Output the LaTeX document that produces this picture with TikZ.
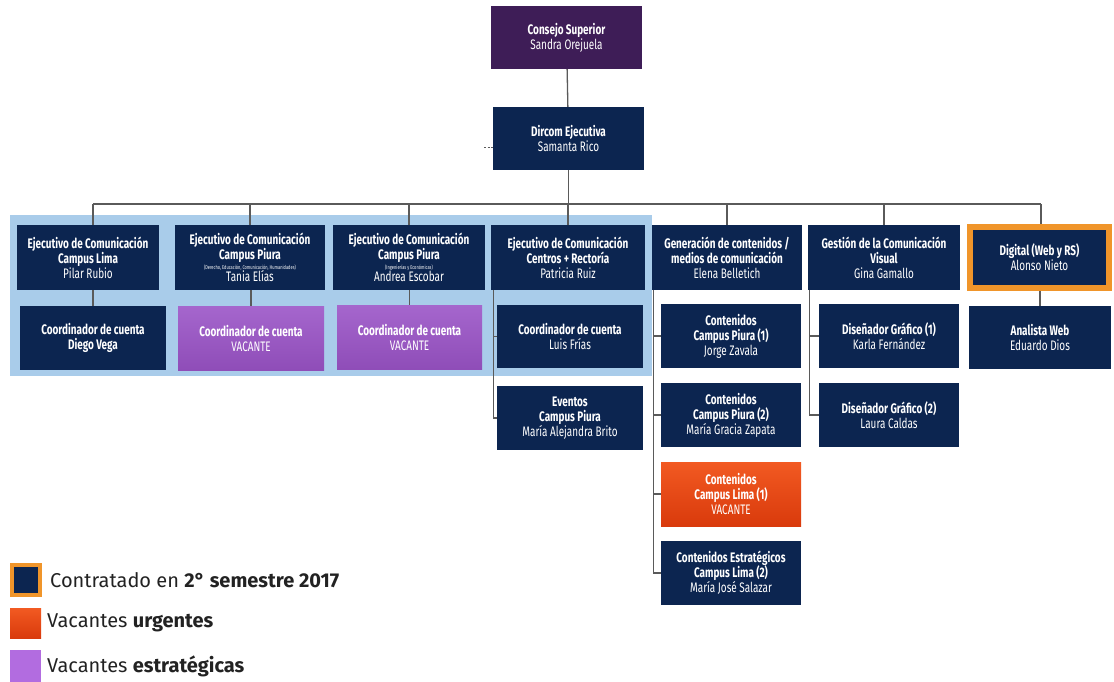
\documentclass[tikz,border=0pt]{standalone}
\usepackage{fontspec}
\setmainfont{Fira Sans}
\newfontfamily\bx{Fira Sans}[FakeStretch=0.72]
\definecolor{navy}{HTML}{0C2550}
\definecolor{plum}{HTML}{3E1D57}
\definecolor{vacT}{HTML}{A566CD}
\definecolor{vacB}{HTML}{8F4DB8}
\definecolor{urgT}{HTML}{F25A22}
\definecolor{urgB}{HTML}{D93A0C}
\definecolor{gold}{HTML}{F0952A}
\definecolor{sky}{HTML}{A9CCEA}
\definecolor{wire}{HTML}{5A5A5A}
\definecolor{lpurp}{HTML}{B26CE0}
\definecolor{ink}{HTML}{222222}
\tikzset{
  base/.style={rectangle, inner sep=0pt, align=center, text=white,
    font=\bx\fontsize{13.8}{15}\selectfont, minimum height=64},
  nv/.style={base, fill=navy},
  topbox/.style={base, fill=plum},
  vacbox/.style={base, top color=vacT, bottom color=vacB},
  urgbox/.style={base, top color=urgT, bottom color=urgB},
  wireline/.style={draw=wire, line width=1.3pt},
  legtxt/.style={anchor=west, text=ink, font=\fontsize{20}{22}\selectfont, inner sep=0pt},
}
\newcommand{\smallnote}[1]{{\fontsize{5.5}{6}\selectfont #1}}
\begin{document}
\begin{tikzpicture}[x=1pt,y=-1pt]
\useasboundingbox (0,0) rectangle (1114,682);
% light blue band
\fill[sky] (10,215) rectangle (652,376);

% top
\node[topbox, minimum width=151, minimum height=63] (cs) at (566.5,37.5) {\textbf{Consejo Superior}\\Sandra Orejuela};
\node[nv, minimum width=151, minimum height=63] (dir) at (568.5,138.5) {\textbf{Dircom Ejecutiva}\\Samanta Rico};

% first level
\node[nv, minimum width=142, minimum height=65] (e1) at (88,257.5) {\textbf{Ejecutivo de Comunicación}\\\textbf{Campus Lima}\\Pilar Rubio};
\node[nv, minimum width=150, minimum height=65] (e2) at (250,257.5) {\textbf{Ejecutivo de Comunicación}\\\textbf{Campus Piura}\\[-5pt]\smallnote{(Derecho, Educación, Comunicación, Humanidades)}\\[-2.5pt]Tania Elías};
\node[nv, minimum width=152, minimum height=65] (e3) at (409,257.5) {\textbf{Ejecutivo de Comunicación}\\\textbf{Campus Piura}\\[-5pt]\smallnote{(Ingenierías y Económicas)}\\[-2.5pt]Andrea Escobar};
\node[nv, minimum width=154, minimum height=65] (e4) at (568,257.5) {\textbf{Ejecutivo de Comunicación}\\\textbf{Centros + Rectoría}\\Patricia Ruiz};
\node[nv, minimum width=150, minimum height=65] (e5) at (727,257.5) {\textbf{Generación de contenidos /}\\\textbf{medios de comunicación}\\Elena Belletich};
\node[nv, minimum width=152, minimum height=65] (e6) at (884,257.5) {\textbf{Gestión de la Comunicación}\\\textbf{Visual}\\Gina Gamallo};
\node[nv, minimum width=139, minimum height=61, draw=gold, line width=5.5pt] (e7) at (1039.5,257.5) {\textbf{Digital (Web y RS)}\\Alonso Nieto};

% second level
\node[nv, minimum width=146] (c1) at (93,338) {\textbf{Coordinador de cuenta}\\\textbf{Diego Vega}};
\node[vacbox, minimum width=146] (c2) at (251,338) {\textbf{Coordinador de cuenta}\\VACANTE};
\node[vacbox, minimum width=145] (c3) at (409.5,337) {\textbf{Coordinador de cuenta}\\VACANTE};
\node[nv, minimum width=146, minimum height=63] (c4) at (570,336.5) {\textbf{Coordinador de cuenta}\\Luis Frías};
\node[nv, minimum width=146] (ev) at (570,418) {\textbf{Eventos}\\\textbf{Campus Piura}\\María Alejandra Brito};

\node[nv, minimum width=140] (g1) at (731,336) {\textbf{Contenidos}\\\textbf{Campus Piura (1)}\\Jorge Zavala};
\node[nv, minimum width=140] (g2) at (731,415) {\textbf{Contenidos}\\\textbf{Campus Piura (2)}\\María Gracia Zapata};
\node[urgbox, minimum width=140] (g3) at (731,494) {\textbf{Contenidos}\\\textbf{Campus Lima (1)}\\VACANTE};
\node[nv, minimum width=140] (g4) at (731,573) {\textbf{Contenidos Estratégicos}\\\textbf{Campus Lima (2)}\\María José Salazar};

\node[nv, minimum width=140] (d1) at (889,336) {\textbf{Diseñador Gráfico (1)}\\Karla Fernández};
\node[nv, minimum width=140] (d2) at (889,415) {\textbf{Diseñador Gráfico (2)}\\Laura Caldas};

\node[nv, minimum width=142, minimum height=63] (aw) at (1040,337.5) {\textbf{Analista Web}\\Eduardo Dios};

% connectors
\coordinate (busL) at (93,204);
\coordinate (busR) at (1041,204);
\draw[wireline] (cs) -- (dir);
\draw[wireline] (dir.south) -- (dir.south |- busL);
\draw[wireline] (busL) -- (busR);
\draw[wireline] (busL) -- (busL |- e1.north);
\foreach \n in {e2,e3,e4,e5,e6} \draw[wireline] (\n.north |- busL) -- (\n.north);
\draw[wireline] (busR) -- (busR |- e7.north);
\draw[wireline] (c1.north |- e1.south) -- (c1.north);
\draw[wireline] (c2.north |- e2.south) -- (c2.north);
\draw[wireline] (c3.north |- e3.south) -- (c3.north);
\draw[wireline] (aw.north |- e7.south) -- (aw.north);

\coordinate (pL) at ([xshift=3pt]e4.south west);
\draw[wireline] (pL) |- (ev.west);
\draw[wireline] (c4.west) -- (c4.west -| pL);

\coordinate (gL) at ([xshift=1.5pt]e5.south west);
\draw[wireline] (gL) |- (g4.west);
\foreach \n in {g1,g2,g3} \draw[wireline] (\n.west) -- (\n.west -| gL);

\coordinate (dL) at ([xshift=2pt]e6.south west);
\draw[wireline] (dL) |- (d2.west);
\draw[wireline] (d1.west) -- (d1.west -| dL);

\coordinate (dd) at (484,147);
\draw[wire, line width=0.8pt, dash pattern=on 2pt off 1.5pt] (dd) -- (dd -| dir.west);

% legend
\node[fill=navy, draw=gold, line width=4pt, minimum width=28, minimum height=30, inner sep=0pt] (l1) at (26,580) {};
\node[top color=urgT, bottom color=urgB, minimum width=31, minimum height=30, inner sep=0pt] (l2) at (25.5,623) {};
\node[fill=lpurp, minimum width=31, minimum height=32, inner sep=0pt] (l3) at (25.5,666) {};
\node[legtxt] (t1) at (50,580) {Contratado en \textbf{2° semestre 2017}};
\node[legtxt] (t2) at (47,623) {Vacantes \textbf{urgentes}};
\node[legtxt] (t3) at (47,666) {Vacantes \textbf{estratégicas}};
\end{tikzpicture}
\end{document}
